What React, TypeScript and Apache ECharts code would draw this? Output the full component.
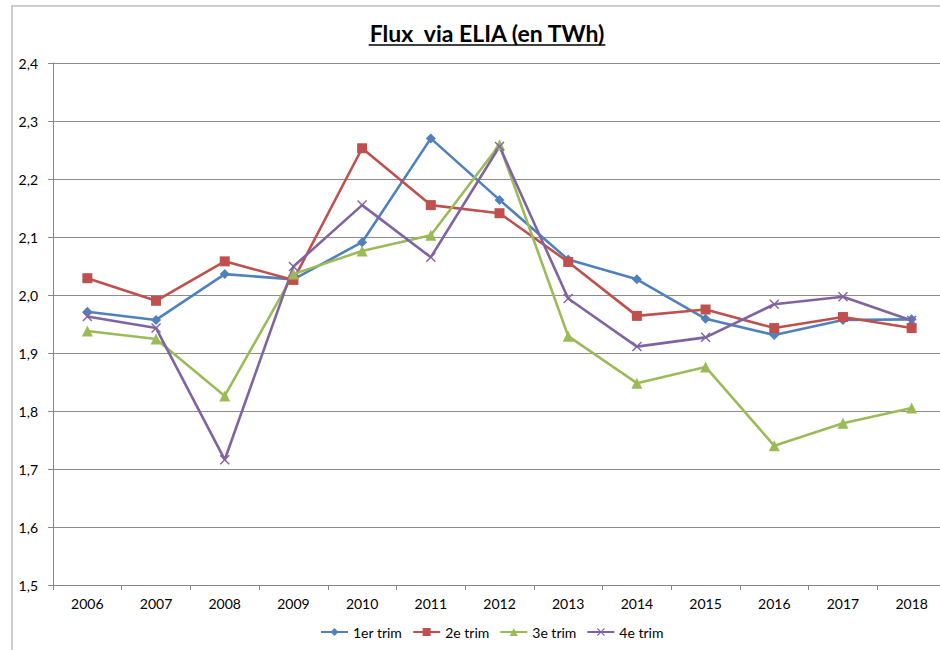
import React, { useEffect, useRef } from "react";
import * as echarts from "echarts";

const years = ["2006", "2007", "2008", "2009", "2010", "2011", "2012", "2013", "2014", "2015", "2016", "2017", "2018"];
const trim1 = [1.971, 1.957, 2.036, 2.027, 2.091, 2.270, 2.164, 2.061, 2.027, 1.959, 1.931, 1.957, 1.958];
const trim2 = [2.029, 1.990, 2.058, 2.026, 2.253, 2.155, 2.141, 2.057, 1.964, 1.975, 1.943, 1.962, 1.943];
const trim3 = [1.938, 1.924, 1.826, 2.036, 2.076, 2.103, 2.259, 1.929, 1.848, 1.876, 1.740, 1.779, 1.805];
const trim4 = [1.963, 1.943, 1.716, 2.049, 2.155, 2.065, 2.256, 1.994, 1.911, 1.927, 1.984, 1.997, 1.956];
const seriesNames = ["1er trim", "2e trim", "3e trim", "4e trim"];
const colors = ["#4F81BD", "#C0504D", "#9BBB59", "#8064A2"];
const titleText = "Flux  via ELIA (en TWh)";

const xSymbol = "path://M0,1 L1,0 L5,4 L9,0 L10,1 L6,5 L10,9 L9,10 L5,6 L1,10 L0,9 L4,5 Z";

const FONT = "Lato, 'Noto Sans', sans-serif";

export default function App() {
  const ref = useRef<HTMLDivElement>(null);
  useEffect(() => {
    if (!ref.current) return;
    const chart = echarts.init(ref.current, null, { renderer: "svg" });
    const titleFont = `bold 23px ${FONT}`;
    let tw = 242;
    try {
      const ctx = document.createElement("canvas").getContext("2d");
      if (ctx) {
        ctx.font = titleFont;
        tw = ctx.measureText(titleText).width;
      }
    } catch (e) {}
    const cx = 487;
    const data = [trim1, trim2, trim3, trim4];
    const symbols = ["diamond", "rect", "triangle", xSymbol];
    const sizes = [10, 10, 11, 10];
    chart.setOption({
      animation: false,
      color: colors,
      textStyle: { fontFamily: FONT },
      grid: { left: 53, right: 14, top: 63, bottom: 65, containLabel: false },
      xAxis: {
        type: "category",
        data: years,
        boundaryGap: true,
        axisLine: { lineStyle: { color: "#868686", width: 1 } },
        axisTick: { show: true, length: 5, lineStyle: { color: "#868686" } },
        axisLabel: { color: "#000", fontSize: 14, margin: 11, fontFamily: FONT },
      },
      yAxis: {
        type: "value",
        min: 1.5,
        max: 2.4,
        interval: 0.1,
        axisLine: { show: true, lineStyle: { color: "#868686", width: 1 } },
        axisTick: { show: true, length: 5, lineStyle: { color: "#868686" } },
        splitLine: { lineStyle: { color: "#8c8c8c", width: 1 } },
        axisLabel: {
          color: "#000",
          fontSize: 14,
          margin: 15,
          fontFamily: FONT,
          formatter: (v: number) => v.toFixed(1).replace(".", ","),
        },
      },
      legend: {
        bottom: 6,
        left: 315,
        itemWidth: 27,
        itemHeight: 10,
        itemGap: 10,
        textStyle: { color: "#000", fontSize: 14, fontFamily: FONT },
        data: seriesNames,
      },
      graphic: [
        {
          type: "rect",
          shape: { x: 12, y: 6, width: 1000, height: 1000 },
          style: { fill: "none", stroke: "#bdbdbd", lineWidth: 1.5 },
          silent: true,
        },
        {
          type: "text",
          x: cx,
          y: 33,
          style: {
            text: titleText,
            font: titleFont,
            fill: "#000",
            align: "center",
            verticalAlign: "middle",
          },
        },
        {
          type: "line",
          shape: { x1: cx - tw / 2, y1: 45, x2: cx + tw / 2, y2: 45 },
          style: { stroke: "#000", lineWidth: 1.6 },
        },
      ],
      series: data.map((d, i) => ({
        name: seriesNames[i],
        type: "line",
        data: d,
        symbol: symbols[i],
        symbolSize: sizes[i],
        showAllSymbol: true,
        lineStyle: { width: 2.6, color: colors[i] },
        itemStyle: { color: colors[i] },
      })),
    });
    return () => chart.dispose();
  }, []);
  return (
    <div style={{ position: "absolute", left: 0, top: 0, width: 940, height: 650, overflow: "hidden", background: "#fff" }}>
      <div ref={ref} style={{ width: 960, height: 650 }} />
    </div>
  );
}
